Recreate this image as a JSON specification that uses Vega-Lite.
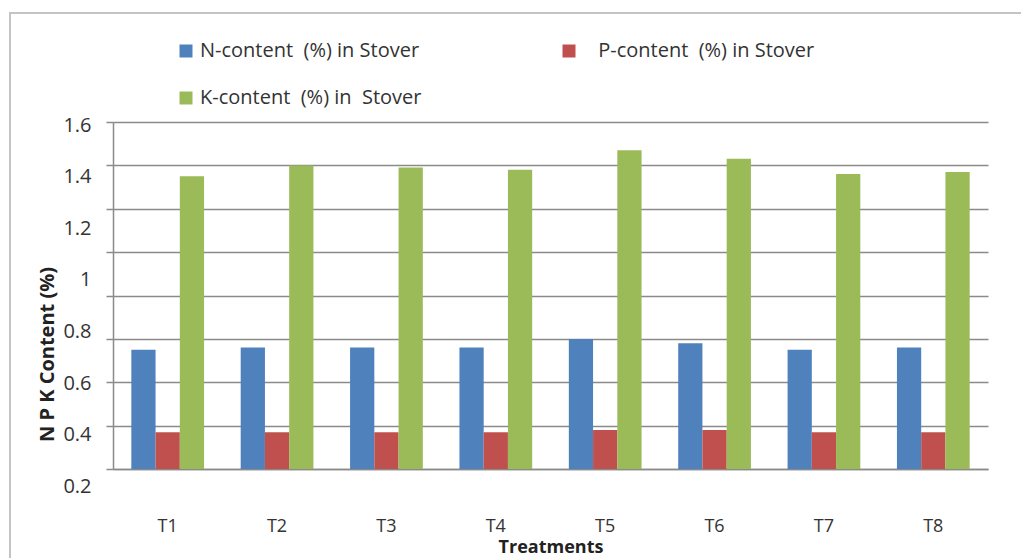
{
  "$schema": "https://vega.github.io/schema/vega-lite/v6.json",
  "autosize": {"type": "none"},
  "padding": {"left": 10, "top": 13, "right": -19, "bottom": -15},
  "width": 1030,
  "height": 560,
  "background": "white",
  "config": {
    "view": {"stroke": "#c4c4c4", "strokeWidth": 2},
    "font": "Open Sans"
  },
  "data": {
    "values": [
      {"treatment": "T1", "nutrient": "N-content  (%) in Stover", "value": 0.55},
      {"treatment": "T1", "nutrient": "P-content  (%) in Stover", "value": 0.17},
      {"treatment": "T1", "nutrient": "K-content  (%) in  Stover", "value": 1.35},
      {"treatment": "T2", "nutrient": "N-content  (%) in Stover", "value": 0.56},
      {"treatment": "T2", "nutrient": "P-content  (%) in Stover", "value": 0.17},
      {"treatment": "T2", "nutrient": "K-content  (%) in  Stover", "value": 1.40},
      {"treatment": "T3", "nutrient": "N-content  (%) in Stover", "value": 0.56},
      {"treatment": "T3", "nutrient": "P-content  (%) in Stover", "value": 0.17},
      {"treatment": "T3", "nutrient": "K-content  (%) in  Stover", "value": 1.39},
      {"treatment": "T4", "nutrient": "N-content  (%) in Stover", "value": 0.56},
      {"treatment": "T4", "nutrient": "P-content  (%) in Stover", "value": 0.17},
      {"treatment": "T4", "nutrient": "K-content  (%) in  Stover", "value": 1.38},
      {"treatment": "T5", "nutrient": "N-content  (%) in Stover", "value": 0.60},
      {"treatment": "T5", "nutrient": "P-content  (%) in Stover", "value": 0.18},
      {"treatment": "T5", "nutrient": "K-content  (%) in  Stover", "value": 1.47},
      {"treatment": "T6", "nutrient": "N-content  (%) in Stover", "value": 0.58},
      {"treatment": "T6", "nutrient": "P-content  (%) in Stover", "value": 0.18},
      {"treatment": "T6", "nutrient": "K-content  (%) in  Stover", "value": 1.43},
      {"treatment": "T7", "nutrient": "N-content  (%) in Stover", "value": 0.55},
      {"treatment": "T7", "nutrient": "P-content  (%) in Stover", "value": 0.17},
      {"treatment": "T7", "nutrient": "K-content  (%) in  Stover", "value": 1.36},
      {"treatment": "T8", "nutrient": "N-content  (%) in Stover", "value": 0.56},
      {"treatment": "T8", "nutrient": "P-content  (%) in Stover", "value": 0.17},
      {"treatment": "T8", "nutrient": "K-content  (%) in  Stover", "value": 1.37}
    ]
  },
  "mark": {"type": "bar"},
  "encoding": {
    "x": {
      "field": "treatment",
      "type": "nominal",
      "sort": ["T1", "T2", "T3", "T4", "T5", "T6", "T7", "T8"],
      "scale": {"range": [103, 978], "paddingInner": 0.335, "paddingOuter": 0.1675},
      "axis": {
        "offset": -104,
        "ticks": false,
        "grid": false,
        "domainColor": "#8a8a8a",
        "domainWidth": 1.5,
        "labelAngle": 0,
        "labelPadding": 48,
        "labelFontSize": 18,
        "labelColor": "#333333",
        "title": "Treatments",
        "titleFontSize": 18,
        "titleFontWeight": "bold",
        "titleColor": "#222222",
        "titlePadding": 3
      }
    },
    "xOffset": {
      "field": "nutrient",
      "sort": ["N-content  (%) in Stover", "P-content  (%) in Stover", "K-content  (%) in  Stover"],
      "scale": {"paddingInner": 0, "paddingOuter": 0}
    },
    "y": {
      "field": "value",
      "type": "quantitative",
      "scale": {"domain": [0, 1.6], "range": [456, 109], "nice": false, "zero": true},
      "axis": {
        "values": [0, 0.2, 0.4, 0.6, 0.8, 1, 1.2, 1.4, 1.6],
        "offset": -103,
        "format": "~g",
        "labelExpr": "datum.value == 0 ? '' : datum.label",
        "labelOffset": {"expr": "3 + (1.6 - datum.value) * 41.4"},
        "tickSize": 7,
        "tickColor": "#8a8a8a",
        "tickWidth": 1.5,
        "domainColor": "#8a8a8a",
        "domainWidth": 1.5,
        "grid": true,
        "gridColor": "#8a8a8a",
        "gridWidth": 1.5,
        "labelFontSize": 20,
        "labelColor": "#333333",
        "labelPadding": 15,
        "title": "N P K Content (%)",
        "titleFontSize": 20,
        "titleFontWeight": "bold",
        "titleColor": "#222222",
        "titleX": -66,
        "titleY": 341,
        "titleAngle": -90,
        "titleAlign": "center",
        "titleBaseline": "middle"
      }
    },
    "color": {
      "field": "nutrient",
      "type": "nominal",
      "scale": {
        "domain": ["N-content  (%) in Stover", "P-content  (%) in Stover", "K-content  (%) in  Stover"],
        "range": ["#4F81BD", "#C0504D", "#9BBB59"]
      },
      "legend": {
        "orient": "none",
        "legendX": 166,
        "legendY": 28,
        "direction": "horizontal",
        "columns": 2,
        "title": null,
        "symbolType": "square",
        "symbolSize": 169,
        "symbolStrokeWidth": 0,
        "symbolOpacity": 1,
        "labelFontSize": 20,
        "labelColor": "#333333",
        "labelOffset": 4,
        "labelLimit": 400,
        "rowPadding": 27,
        "columnPadding": 137,
        "labelExpr": "(slice(datum.value, 0, 1) == 'P' ? '\u200b\u2002\u00a0' : '') + replace(replace(datum.label, '  ', '\u00a0\u00a0'), '  ', '\u00a0\u00a0')"
      }
    }
  }
}
